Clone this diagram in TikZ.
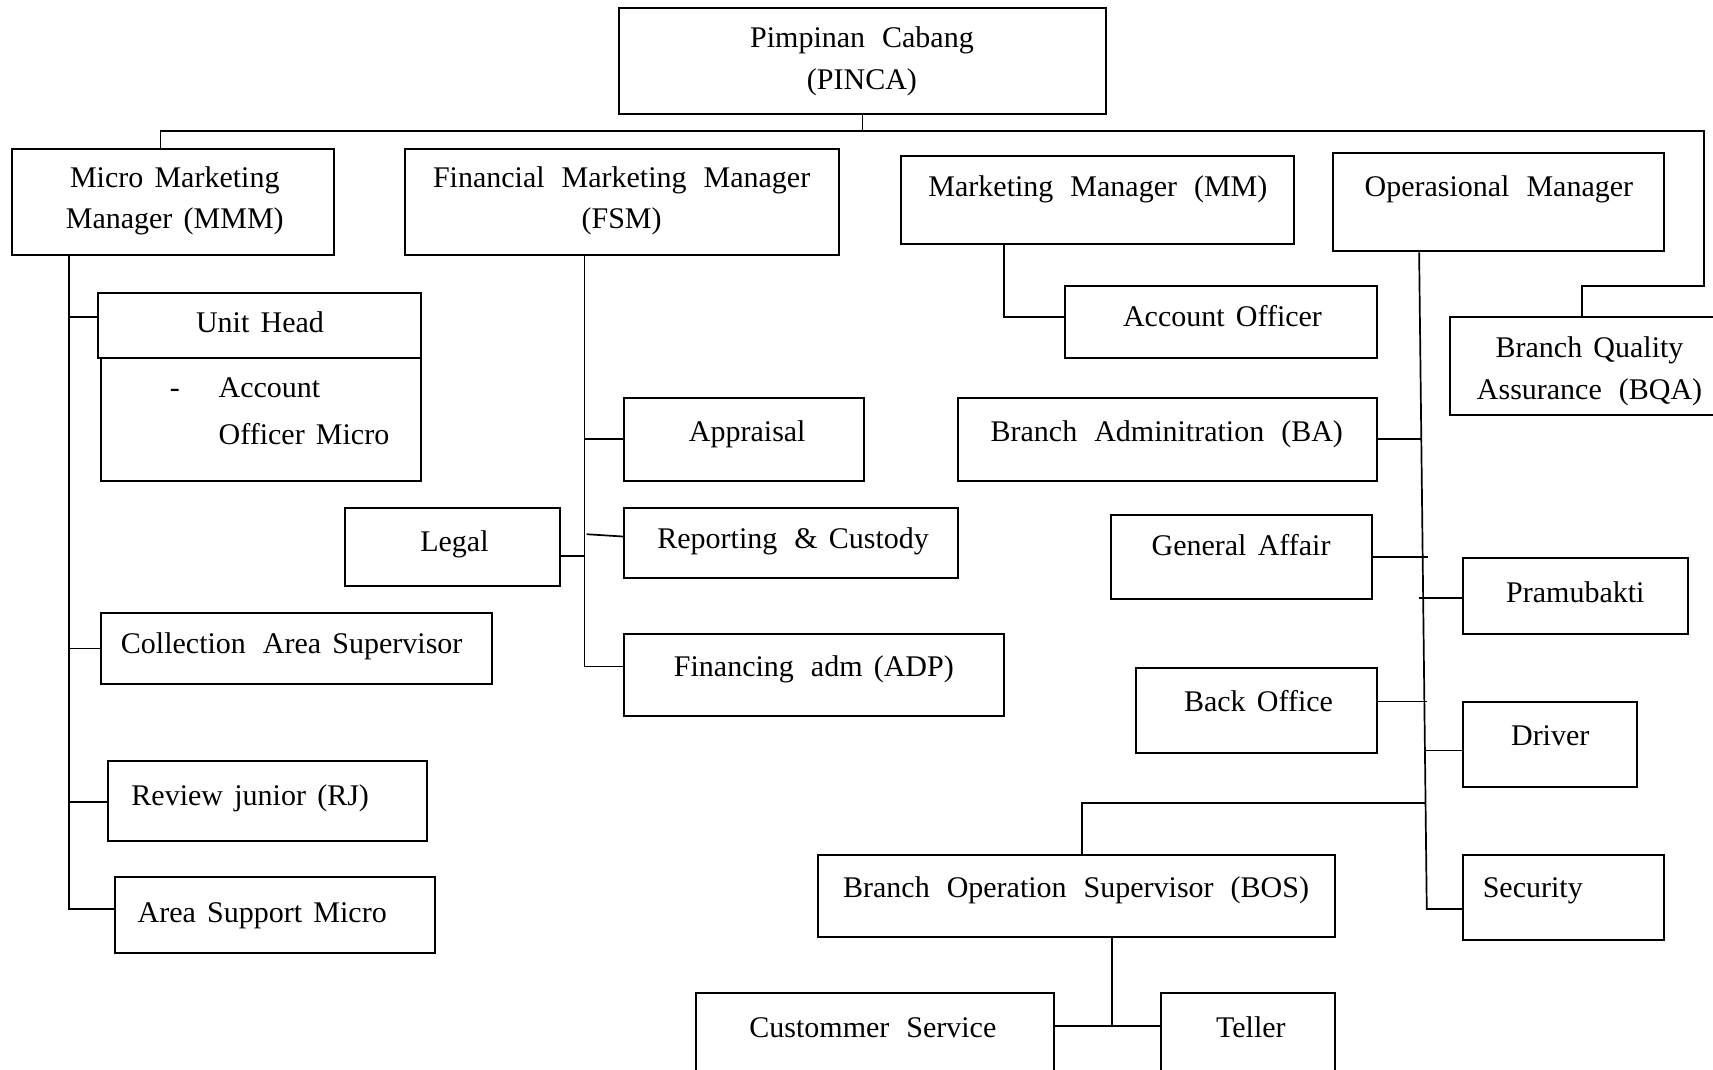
\documentclass[tikz,border=0pt]{standalone}
\usepackage{fontspec}
\setmainfont[WordSpace=1.5]{Liberation Serif}
\usetikzlibrary{fit,calc}
\newcommand{\dg}{\hspace{17pt}}
\begin{document}
\begin{tikzpicture}[x=1.0925pt, y=-1.0925pt,
  box/.style={draw, line width=2pt, inner sep=0pt},
  ln/.style={line width=1.7pt},
  txt/.style={font=\fontsize{30}{41.5}\selectfont, align=center, inner sep=0pt, text height=21pt, text depth=3pt},
  txtm/.style={font=\fontsize{30}{41.5}\selectfont, align=center, inner sep=0pt}]
\useasboundingbox (0,0) rectangle (1568,979);
\clip (0,0) rectangle (1568,979);
% boxes
\node[box, fit={(567,7) (1012,104)}] (pinca) {};
\node[box, fit={(11,136) (306,233)}] (mmm) {};
\node[box, fit={(371,136) (768,233)}] (fsm) {};
\node[box, fit={(825,143) (1184,223)}] (mm) {};
\node[box, fit={(1220,140) (1523,230)}] (om) {};
\node[box, fit={(90,268) (385,328)}] (uh) {};
\node[box, fit={(92,328) (385,440)}] (aom) {};
\node[box, fit={(92,561) (450,626)}] (coll) {};
\node[box, fit={(99,697) (391,770)}] (rj) {};
\node[box, fit={(105,803) (398,872)}] (asm) {};
\node[box, fit={(571,364) (791,440)}] (appr) {};
\node[box, fit={(571,465) (877,529)}] (rep) {};
\node[box, fit={(316,465) (513,536)}] (legal) {};
\node[box, fit={(571,580) (919,655)}] (fin) {};
\node[box, fit={(975,262) (1260,328)}] (ao) {};
\node[box, fit={(1327,290) (1585,380)}] (bqa) {};
\node[box, fit={(877,364) (1260,440)}] (ba) {};
\node[box, fit={(1017,471) (1256,548)}] (ga) {};
\node[box, fit={(1339,511) (1545,580)}] (pram) {};
\node[box, fit={(1040,611) (1260,689)}] (bo) {};
\node[box, fit={(1339,643) (1498,720)}] (drv) {};
\node[box, fit={(1339,783) (1523,860)}] (sec) {};
\node[box, fit={(749,783) (1222,858)}] (bos) {};
\node[box, fit={(637,909) (965,1000)}] (cs) {};
\node[box, fit={(1063,909) (1222,1000)}] (tel) {};
% texts
\node[txtm] (pinca-t) at (789,56) {Pimpinan\dg Cabang\\(PINCA)};
\node[txtm] (mmm-t) at (160,184) {Micro Marketing\\Manager (MMM)};
\node[txtm] (fsm-t) at (569,184) {Financial\dg Marketing\dg Manager\\(FSM)};
\node[txt] (mm-t) at (1005,172) {Marketing\dg Manager\dg (MM)};
\node[txt] (om-t) at (1372,172) {Operasional\dg Manager};
\node[txt] (uh-t) at (238,296) {Unit Head};
\node[txt] (dash-t) at (160,356) {-};
\node[txt, anchor=west] (aom-t1) at (200,356) {Account};
\node[txt, anchor=west] (aom-t2) at (200,399) {Officer Micro};
\node[txt] (coll-t) at (267,590) {Collection\dg Area Supervisor};
\node[txt] (rj-t) at (229,729) {Review junior (RJ)};
\node[txt] (asm-t) at (240,836) {Area Support Micro};
\node[txt] (appr-t) at (684,396) {Appraisal};
\node[txt] (legal-t) at (416,497) {Legal};
\node[txt] (rep-t) at (726,494) {Reporting\dg\& Custody};
\node[txt] (fin-t) at (745,611) {Financing\dg adm (ADP)};
\node[txt] (ao-t) at (1119,291) {Account Officer};
\node[txtm] (bqa-t) at (1455,340) {Branch Quality\\Assurance\dg (BQA)};
\node[txt] (ba-t) at (1068,396) {Branch\dg Adminitration\dg (BA)};
\node[txt] (ga-t) at (1136,500) {General Affair};
\node[txt] (pram-t) at (1442,543) {Pramubakti};
\node[txt] (bo-t) at (1152,643) {Back Office};
\node[txt] (drv-t) at (1419,674) {Driver};
\node[txt] (sec-t) at (1403,813) {Security};
\node[txt] (bos-t) at (985,813) {Branch\dg Operation\dg Supervisor\dg (BOS)};
\node[txt] (cs-t) at (799,941) {Custommer\dg Service};
\node[txt] (tel-t) at (1145,941) {Teller};
% connectors
\coordinate (busL) at (147,120);
\coordinate (busR) at (1560,120);
\coordinate (bqaTurn) at (1448,262);
\draw[ln] (pinca.south) -- (pinca.south |- busL);
\draw[ln] (mmm.north -| busL) |- (busR) |- (bqaTurn) -- (bqaTurn |- bqa.north);
% MMM spine
\coordinate (ms) at (63,0);
\coordinate (uhj) at ($(uh.north west)+(0,23)$);
\coordinate (rjj) at ($(rj.north west)+(0,38)$);
\coordinate (asmj) at ($(asm.north west)+(0,30)$);
\draw[ln] (ms |- mmm.south) |- (asmj);
\draw[ln] (uhj) -- (uhj -| ms);
\draw[ln] (coll.west) -- (coll.west -| ms);
\draw[ln] (rjj) -- (rjj -| ms);
% FSM spine
\coordinate (fs) at (535,0);
\coordinate (finj) at ($(fin.north west)+(0,31)$);
\coordinate (repj) at (537,489);
\coordinate (legj) at ($(legal.north east)+(0,45)$);
\draw[ln] (fs |- fsm.south) |- (finj);
\draw[ln] (appr.west) -- (appr.west -| fs);
\draw[ln] (repj) -- ($(rep.north west)+(0,27)$);
\draw[ln] (legj) -- (legj -| fs);
% MM
\coordinate (mmx) at (919,0);
\coordinate (aoj) at ($(ao.north west)+(0,29)$);
\draw[ln] (mmx |- mm.south) |- (aoj);
% OM spine
\coordinate (osT) at (1299,0);
\coordinate (osB) at (1306,832);
\draw[ln] (osT |- om.south) -- (osB) -- (osB -| sec.west);
\draw[ln] (ba.east) -- ++(40,0);
\draw[ln] ($(ga.north east)+(0,40)$) -- ++(50,0);
\draw[ln] ($(pram.north west)+(0,37)$) -- ++(-39,0);
\draw[ln] ($(bo.north east)+(0,32)$) -- ++(45,0);
\draw[ln] ($(drv.north west)+(0,45)$) -- ++(-34,0);
\coordinate (bosj) at (1305,735);
\draw[ln] (bosj) -| ($(bos.north)+(5,0)$);
% BOS
\coordinate (bx) at (1018,0);
\coordinate (csj) at ($(cs.north east)+(0,31)$);
\draw[ln] (bx |- bos.south) -- (bx |- csj);
\draw[ln] (csj) -- (csj -| tel.west);
\end{tikzpicture}
\end{document}
